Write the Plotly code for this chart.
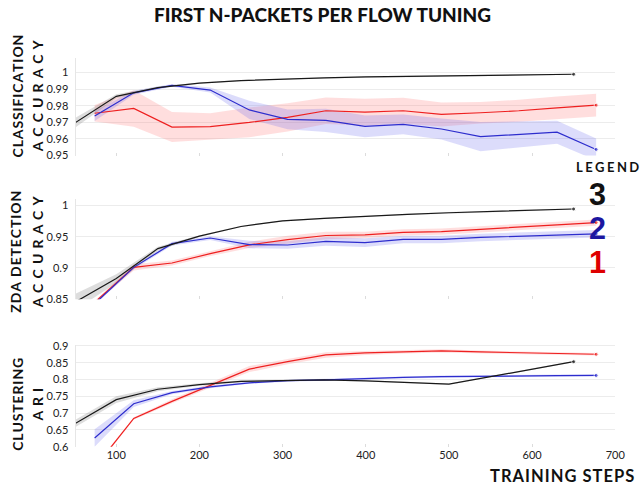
import plotly.graph_objects as go

# ---------------- data ----------------
steps_rb = [74, 121, 167, 213, 260, 306, 352, 399, 445, 491, 538, 584, 630, 677]
steps_k = [50, 100, 150, 200, 250, 300, 350, 400, 450, 500, 650]

# Classification accuracy
cls_red = [0.9755, 0.9784, 0.9672, 0.9675, 0.9700, 0.9730, 0.9770, 0.9762, 0.9770, 0.9748, 0.9758, 0.9770, 0.9788, 0.9804]
cls_red_err = [0.005, 0.011, 0.009, 0.008, 0.009, 0.0085, 0.008, 0.008, 0.0078, 0.0072, 0.0065, 0.0066, 0.0068, 0.0068]
cls_blue = [0.9738, 0.9878, 0.9923, 0.9895, 0.9775, 0.9718, 0.9712, 0.9676, 0.9688, 0.9660, 0.9614, 0.9628, 0.9641, 0.9537]
cls_blue_err = [0.003, 0.0012, 0.0008, 0.0015, 0.0055, 0.006, 0.007, 0.0065, 0.006, 0.0063, 0.0088, 0.0078, 0.0069, 0.0066]
cls_black = [0.9696, 0.9857, 0.9910, 0.9937, 0.9952, 0.9962, 0.9968, 0.9974, 0.9978, 0.9981, 0.9990]
cls_black_err = [0.003, 0.0012, 0.0006, 0.0004, 0.0003, 0.0003, 0.0003, 0.0003, 0.0003, 0.0003, 0.0003]

# ZDA detection accuracy
zda_red = [0.845, 0.901, 0.908, 0.923, 0.937, 0.9455, 0.952, 0.953, 0.957, 0.9583, 0.962, 0.966, 0.969, 0.9728]
zda_red_err = [0.002, 0.005, 0.004, 0.004, 0.005, 0.006, 0.006, 0.005, 0.005, 0.005, 0.005, 0.005, 0.005, 0.005]
zda_blue = [0.8427, 0.901, 0.939, 0.948, 0.9375, 0.9368, 0.9427, 0.9406, 0.9458, 0.9458, 0.949, 0.951, 0.953, 0.9547]
zda_blue_err = [0.002, 0.003, 0.003, 0.003, 0.006, 0.006, 0.007, 0.007, 0.006, 0.006, 0.006, 0.006, 0.006, 0.006]
zda_black = [0.845, 0.883, 0.931, 0.951, 0.9665, 0.9755, 0.9795, 0.9833, 0.986, 0.9885, 0.9945]
zda_black_err = [0.013, 0.007, 0.003, 0.0015, 0.001, 0.001, 0.001, 0.001, 0.001, 0.001, 0.001]

# Clustering ARI
ari_red = [0.538, 0.684, 0.735, 0.783, 0.831, 0.853, 0.873, 0.879, 0.882, 0.885, 0.882, 0.879, 0.877, 0.875]
ari_red_err = [0.004, 0.004, 0.006, 0.007, 0.009, 0.008, 0.008, 0.006, 0.005, 0.005, 0.004, 0.004, 0.004, 0.004]
ari_blue = [0.626, 0.728, 0.761, 0.778, 0.790, 0.7965, 0.799, 0.8035, 0.806, 0.8085, 0.810, 0.811, 0.8115, 0.812]
ari_blue_err = [0.026, 0.01, 0.005, 0.004, 0.003, 0.003, 0.003, 0.003, 0.003, 0.003, 0.003, 0.003, 0.003, 0.003]
ari_black = [0.668, 0.740, 0.771, 0.785, 0.7945, 0.797, 0.799, 0.796, 0.792, 0.786, 0.853]
ari_black_err = [0.011, 0.01, 0.006, 0.004, 0.003, 0.002, 0.002, 0.002, 0.002, 0.002, 0.002]

title_text = "FIRST N-PACKETS PER FLOW TUNING"
ytitle_lines = [["CLASSIFICATION", "ACCURACY"], ["ZDA DETECTION", "ACCURACY"], ["CLUSTERING", "ARI"]]
xtitle_text = "TRAINING STEPS"
legend_title = "LEGEND"
legend_labels = ["3", "2", "1"]

y1_ticks = [0.95, 0.96, 0.97, 0.98, 0.99, 1.0]
y1_text = ["0.95", "0.96", "0.97", "0.98", "0.99", "1"]
y2_ticks = [0.85, 0.9, 0.95, 1.0]
y2_text = ["0.85", "0.9", "0.95", "1"]
y3_ticks = [0.6, 0.65, 0.7, 0.75, 0.8, 0.85, 0.9]
y3_text = ["0.6", "0.65", "0.7", "0.75", "0.8", "0.85", "0.9"]
x_ticks = [100, 200, 300, 400, 500, 600, 700]

# ---------------- style ----------------
W, H = 642, 494
RED = "rgb(238,32,32)"
BLUE = "rgb(45,45,205)"
BLACK = "rgb(25,25,25)"
RED_BAND = "rgba(255,105,105,0.22)"
BLUE_BAND = "rgba(95,95,235,0.22)"
GRAY_BAND = "rgba(120,120,120,0.25)"
FONT = "Lato"
HS = "\u200a"
TS = "\u2009"


def px(x):
    return x / W


def py(y):
    return 1 - y / H


fig = go.Figure()

panels = [
    ("x", "y", cls_red, cls_red_err, cls_blue, cls_blue_err, cls_black, cls_black_err),
    ("x2", "y2", zda_red, zda_red_err, zda_blue, zda_blue_err, zda_black, zda_black_err),
    ("x3", "y3", ari_red, ari_red_err, ari_blue, ari_blue_err, ari_black, ari_black_err),
]


def band(xs, v, e, color, xa, ya):
    hi = [a + b for a, b in zip(v, e)]
    lo = [a - b for a, b in zip(v, e)]
    return go.Scatter(x=list(xs) + list(xs)[::-1], y=hi + lo[::-1], fill="toself",
                      fillcolor=color, line=dict(width=0), mode="lines",
                      hoverinfo="skip", showlegend=False, xaxis=xa, yaxis=ya)


def line(xs, v, color, xa, ya):
    sizes = [0] * (len(xs) - 1) + [4]
    return go.Scatter(x=xs, y=v, mode="lines+markers", line=dict(color=color, width=1.2),
                      marker=dict(size=sizes, color=color), showlegend=False,
                      xaxis=xa, yaxis=ya)


for xa, ya, r, re, b, be, k, ke in panels:
    fig.add_trace(band(steps_rb, r, re, RED_BAND, xa, ya))
    fig.add_trace(band(steps_rb, b, be, BLUE_BAND, xa, ya))
    fig.add_trace(band(steps_k, k, ke, GRAY_BAND, xa, ya))
    fig.add_trace(line(steps_rb, r, RED, xa, ya))
    fig.add_trace(line(steps_rb, b, BLUE, xa, ya))
    fig.add_trace(line(steps_k, k, BLACK, xa, ya))

xdom = [px(76.7), px(625)]
tickfont = dict(family=FONT, size=11, color="#222")
xcommon = dict(domain=xdom, range=[51, 700], showgrid=False, zeroline=False,
               tickvals=x_ticks, ticks="inside", ticklen=3, tickcolor="#dcdcdc",
               showline=False, tickfont=tickfont)
ycommon = dict(showgrid=True, gridcolor="#ececec", gridwidth=1, zeroline=False,
               showline=True, linecolor="#e6e6e6", linewidth=1, ticks="",
               tickfont=tickfont, ticklabelstandoff=4)

fig.update_layout(
    width=W, height=H, margin=dict(l=0, r=0, t=0, b=0),
    paper_bgcolor="white", plot_bgcolor="white", showlegend=False,
    xaxis=dict(**xcommon, anchor="y", showticklabels=False),
    xaxis2=dict(**xcommon, anchor="y2", showticklabels=False),
    xaxis3=dict(**xcommon, anchor="y3", showticklabels=True),
    yaxis=dict(**ycommon, domain=[py(153.3), py(53.3)], range=[0.95, 1.0088],
               tickvals=y1_ticks, ticktext=y1_text, anchor="x"),
    yaxis2=dict(**ycommon, domain=[py(300.5), py(198)], range=[0.85, 1.0102],
                tickvals=y2_ticks, ticktext=y2_text, anchor="x2"),
    yaxis3=dict(**ycommon, domain=[py(451.7), py(347.3)], range=[0.6, 0.903],
                tickvals=y3_ticks, ticktext=y3_text, anchor="x3"),
)

ann = []
ann.append(dict(text=title_text, x=px(154), y=py(9), xref="paper", yref="paper",
                showarrow=False, xanchor="left", yanchor="middle",
                font=dict(family=FONT, size=19, color="#111", weight=900)))

ycenters = [92, 252, 408]
line1_x = [18, 16, 17]
for (l1, l2), yc, x1 in zip(ytitle_lines, ycenters, line1_x):
    ann.append(dict(text=HS.join(l1), x=px(x1), y=py(yc), xref="paper", yref="paper",
                    showarrow=False, xanchor="center", yanchor="middle", textangle=-90,
                    font=dict(family=FONT, size=14, color="#111", weight="bold")))
    ann.append(dict(text=(" " + HS + HS).join(l2), x=px(38), y=py(yc), xref="paper", yref="paper",
                    showarrow=False, xanchor="center", yanchor="middle", textangle=-90,
                    font=dict(family=FONT, size=14, color="#111", weight="bold")))

ann.append(dict(text=HS.join(xtitle_text), x=px(496), y=py(482), xref="paper", yref="paper",
                showarrow=False, xanchor="left", yanchor="middle",
                font=dict(family=FONT, size=16.5, color="#111", weight="bold")))

ann.append(dict(text=(TS + HS).join(legend_title), x=px(583), y=py(165), xref="paper", yref="paper",
                showarrow=False, xanchor="left", yanchor="middle",
                font=dict(family=FONT, size=13, color="#111", weight="bold")))

legend_colors = ["#111111", "rgb(28,22,160)", "rgb(222,0,0)"]
legend_y = [193, 227.5, 262]
for lab, col, yy in zip(legend_labels, legend_colors, legend_y):
    ann.append(dict(text=lab, x=px(597), y=py(yy), xref="paper", yref="paper",
                    showarrow=False, xanchor="left", yanchor="middle", borderpad=0,
                    font=dict(family="Liberation Sans", size=30.5, color=col, weight="bold")))

fig.update_layout(annotations=ann)
fig.write_html("out.html")
